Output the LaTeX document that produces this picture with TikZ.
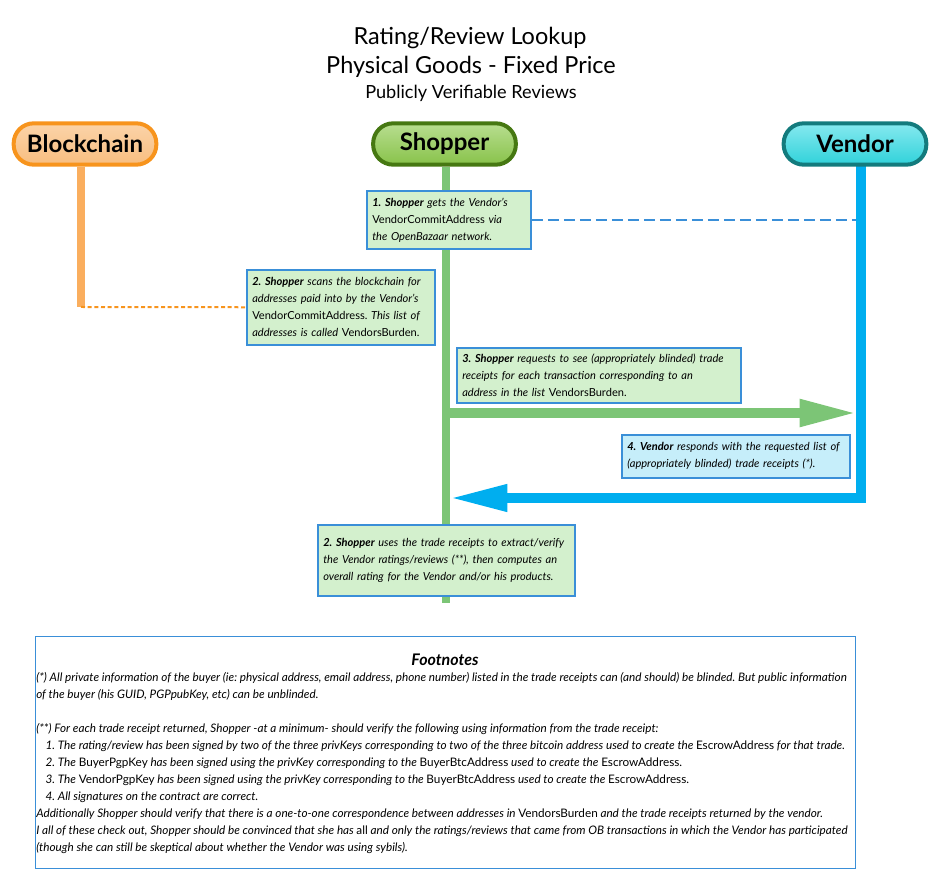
\documentclass[tikz,border=0pt]{standalone}
\usepackage{fontspec}
\setmainfont{Lato}
\usetikzlibrary{arrows.meta,backgrounds}
\frenchspacing
\hyphenpenalty=10000
\definecolor{chainedge}{HTML}{F7941D}
\definecolor{chaintop}{HTML}{FBD3A8}
\definecolor{chainbot}{HTML}{F8BE80}
\definecolor{chainline}{HTML}{FAAE5E}
\definecolor{shopedge}{HTML}{467812}
\definecolor{shoptop}{HTML}{B8DE90}
\definecolor{shopbot}{HTML}{88C24A}
\definecolor{shopline}{HTML}{7CC576}
\definecolor{vendedge}{HTML}{137B7D}
\definecolor{vendtop}{HTML}{86E9EF}
\definecolor{vendbot}{HTML}{30D2DA}
\definecolor{vendline}{HTML}{00AEEF}
\definecolor{boxblue}{HTML}{3A8FD8}
\definecolor{notegreen}{HTML}{D3F0CD}
\definecolor{notecyan}{HTML}{C6EEFA}
\tikzset{
  titletext/.style={font=\fontsize{17.6}{21}\selectfont},
  actor/.style={rounded corners=15pt, line width=3pt, minimum width=107pt, minimum height=31pt, font=\fontsize{18}{20}\selectfont\bfseries},
  stepbox/.style={draw=boxblue, line width=1.4pt, fill=notegreen, inner xsep=4pt, inner ysep=2pt, align=left, anchor=north west, font=\fontsize{8.3}{12.75}\selectfont\itshape},
  lifeline/.style={line width=6.5pt},
}
\begin{document}
\begin{tikzpicture}[x=0.75pt,y=-0.75pt]
  \useasboundingbox (0,0) rectangle (940,880);
  % titles
  \node[titletext] (title) at (470,38) {Rating/Review Lookup};
  \node[titletext] (subtitle) at (471,67) {Physical Goods - Fixed Price};
  \node[font=\fontsize{13.6}{16}\selectfont] (subsub) at (471,93) {Publicly Verifiable Reviews};
  % actors
  \node[actor, draw=chainedge, top color=chaintop, bottom color=chainbot] (chain) at (85,144) {Blockchain};
  \node[actor, draw=shopedge, top color=shoptop, bottom color=shopbot] (shop) at (444.5,144) {Shopper};
  \node[actor, draw=vendedge, top color=vendtop, bottom color=vendbot] (vend) at (855,144) {Vendor};
  % notes
  \node[stepbox, text width=115pt, minimum height=43.5pt] (note1) at (366,190) {\textbf{1. Shopper} gets the Vendor's\\\textup{VendorCommitAddress} via\\the OpenBazaar network.};
  \node[stepbox, text width=133pt, minimum height=56pt] (note2) at (246,269) {\textbf{2. Shopper} scans the blockchain for\\addresses paid into by the Vendor's\\\textup{VendorCommitAddress.} This list of\\addresses is called \textup{VendorsBurden.}};
  \node[stepbox, text width=205pt, minimum height=41pt] (note3) at (456,347) {\textbf{3. Shopper} requests to see (appropriately blinded) trade\\receipts for each transaction corresponding to an\\address in the list \textup{VendorsBurden.}};
  \node[stepbox, fill=notecyan, text width=163pt, minimum height=32pt] (note4) at (621,434) {\textbf{4. Vendor} responds with the requested list of\\(appropriately blinded) trade receipts (*).};
  \node[stepbox, text width=185pt, minimum height=53pt] (note5) at (317,524) {\textbf{2. Shopper} uses the trade receipts to extract/verify\\the Vendor ratings/reviews (**), then computes an\\overall rating for the Vendor and/or his products.};
  % footnotes
  \node[draw=boxblue, line width=1pt, minimum width=615pt, minimum height=174pt, anchor=north west] (fnbox) at (35,636) {};
  \node[font=\fontsize{12}{14}\selectfont\bfseries\itshape] (fntitle) at (445,660) {Footnotes};
  \node[anchor=north west, inner sep=0pt, align=left, font=\fontsize{8.8}{12.75}\selectfont\itshape] (fntext) at (36,672) {%
    (*) All private information of the buyer (ie: physical address, email address, phone number) listed in the trade receipts can (and should) be blinded. But public information\\
    of the buyer (his GUID, PGPpubKey, etc) can be unblinded.\\[12.75pt]
    (**) For each trade receipt returned, Shopper -at a minimum- should verify the following using information from the trade receipt:\\
    \hspace*{7pt}1. The rating/review has been signed by two of the three privKeys corresponding to two of the three bitcoin address used to create the \textup{EscrowAddress} for that trade.\\
    \hspace*{7pt}2. The \textup{BuyerPgpKey} has been signed using the privKey corresponding to the \textup{BuyerBtcAddress} used to create the \textup{EscrowAddress.}\\
    \hspace*{7pt}3. The \textup{VendorPgpKey} has been signed using the privKey corresponding to the \textup{BuyerBtcAddress} used to create the \textup{EscrowAddress.}\\
    \hspace*{7pt}4. All signatures on the contract are correct.\\
    Additionally Shopper should verify that there is a one-to-one correspondence between addresses in \textup{VendorsBurden} and the trade receipts returned by the vendor.\\
    I all of these check out, Shopper should be convinced that she has \textup{all} and only the ratings/reviews that came from OB transactions in which the Vendor has participated\\
    (though she can still be skeptical about whether the Vendor was using sybils).};
  % lifelines and messages
  \begin{scope}[on background layer]
    \coordinate (chainend) at (81,307);
    \coordinate (shopend) at (446,603);
    \coordinate (vendtopc) at (861,160);
    \coordinate (vendcorner) at (861,498);
    \coordinate (shopin) at (450,498);
    \coordinate (shopout) at (446,413);
    \coordinate (vendin) at (857,413);
    \draw[lifeline, chainline] (chain.south -| chainend) -- (chainend);% blockchain line
    \draw[lifeline, shopline] (shop.south -| shopend) -- (shopend);% shopper line
    \draw[chainedge, line width=1.5pt, dash pattern=on 3pt off 2pt] (chainend) -- (note2.west);
    \draw[boxblue, line width=1.5pt, dash pattern=on 8pt off 4pt] (note1.east) -- (note1.east -| vendin);
    \draw[shopline, line width=7.5pt, -{Triangle[length=43pt,width=19pt]}] (shopout) -- (vendin);% step 3
    \draw[vendline, line width=7pt, line join=miter, -{Triangle[length=43pt,width=19pt]}] (vendtopc) -- (vendcorner) -- (shopin);% step 4
  \end{scope}
\end{tikzpicture}
\end{document}
